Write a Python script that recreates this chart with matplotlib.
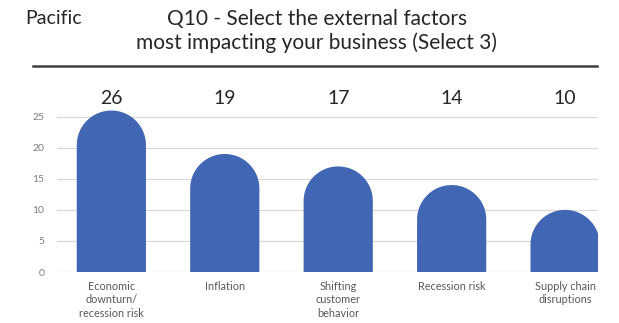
import numpy as np
import matplotlib
matplotlib.use("Agg")
import matplotlib.pyplot as plt
from matplotlib.patches import Polygon
from matplotlib.lines import Line2D

categories = ["Economic\ndownturn/\nrecession risk", "Inflation",
              "Shifting\ncustomer\nbehavior", "Recession risk",
              "Supply chain\ndisruptions"]
values = [26, 19, 17, 14, 10]
y_ticks = [0, 5, 10, 15, 20, 25]

W, H, DPI = 619, 323, 100
fig = plt.figure(figsize=(W / DPI, H / DPI), dpi=DPI)
fig.patch.set_facecolor("white")
plt.rcParams["font.family"] = ["Lato", "DejaVu Sans"]

# axes geometry in pixels
ax_left, ax_right = 57, 598
ax_bottom, ax_top = 272, 95
ax = fig.add_axes([ax_left / W, 1 - ax_bottom / H,
                   (ax_right - ax_left) / W, (ax_bottom - ax_top) / H])

x_lo, x_hi = -0.479, 4.29
y_hi = 28.5
ax.set_xlim(x_lo, x_hi)
ax.set_ylim(0, y_hi)

for s in ax.spines.values():
    s.set_visible(False)
ax.set_yticks(y_ticks)
ax.set_yticklabels([str(t) for t in y_ticks], fontsize=7.5, color="#7f7f7f")
ax.tick_params(axis="y", length=0, pad=9)
ax.set_xticks([])
for t in y_ticks:
    ax.axhline(t, color="#d9d9d9" if t else "#c8c8c8", lw=0.9, zorder=0)

# rounded-top bars
bar_w = 0.61
px_per_y = (ax_bottom - ax_top) / y_hi
px_per_x = (ax_right - ax_left) / (x_hi - x_lo)
rx = bar_w / 2
ry = rx * px_per_x / px_per_y
theta = np.linspace(0, np.pi, 80)
color = "#4066b4"
for i, v in enumerate(values):
    base = v - ry
    pts = [(i - rx, 0), (i + rx, 0), (i + rx, base)]
    pts += [(i + rx * np.cos(t), base + ry * np.sin(t)) for t in theta]
    pts += [(i - rx, base)]
    ax.add_patch(Polygon(pts, closed=True, facecolor=color, edgecolor="none", zorder=2))
    ax.text(i, 27.9, str(v), ha="center", va="center", fontsize=14,
            color="#262626", clip_on=False)
    ax.text(i, -1.4, categories[i], ha="center", va="top", fontsize=7.8,
            color="#595959", linespacing=1.3, clip_on=False)

# header
fig.text(25 / W, 1 - 18 / H, "Pacific", fontsize=14, color="#262626",
         ha="left", va="center")
fig.text(317 / W, 1 - 31 / H,
         "Q10 - Select the external factors\nmost impacting your business (Select 3)",
         fontsize=15, color="#262626", ha="center", va="center", linespacing=1.2)
fig.add_artist(Line2D([33 / W, 597 / W], [1 - 66 / H, 1 - 66 / H],
                      color="#404040", lw=1.8))

fig.savefig("out.png", dpi=DPI, facecolor="white")
